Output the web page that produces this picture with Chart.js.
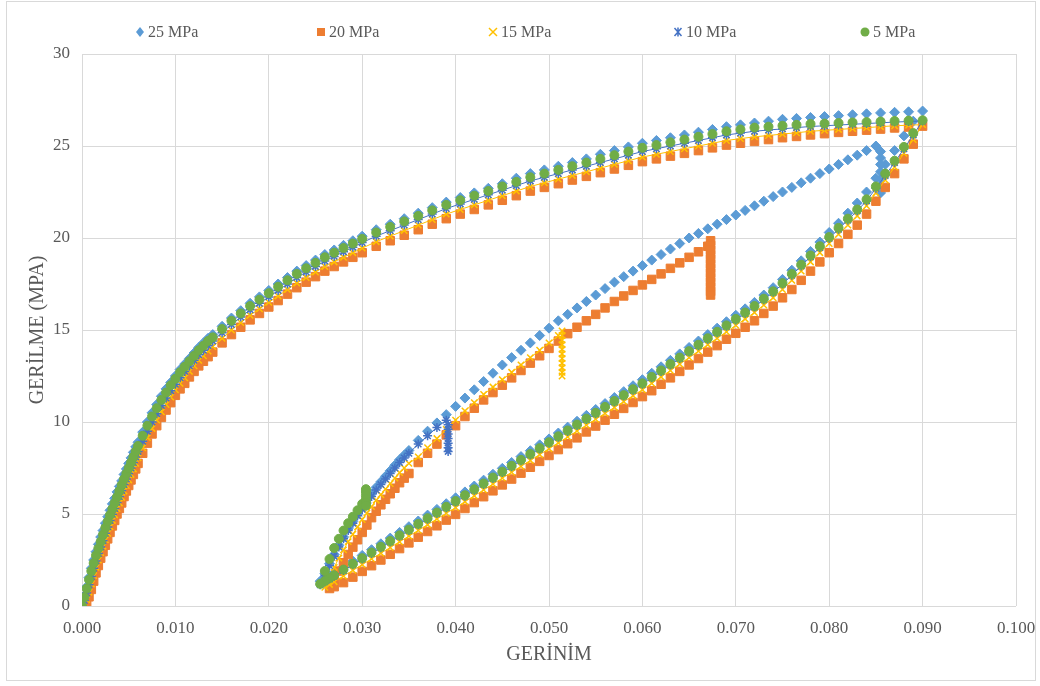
<!DOCTYPE html>
<html lang="tr">
<head>
<meta charset="utf-8">
<title>Gerilme – Gerinim</title>
<script src="https://cdn.jsdelivr.net/npm/chart.js@4.4.1/dist/chart.umd.min.js"></script>
<style>
  html, body { margin: 0; padding: 0; background: #ffffff; }
  #wrap { position: relative; width: 1040px; height: 686px; }
  #frame { position: absolute; left: 6px; top: 1px; width: 1030px; height: 680px;
           box-sizing: border-box; border: 1px solid #D9D9D9; }
  #chart { position: absolute; left: 0; top: 0; }
</style>
</head>
<body>
<div id="wrap">
  <div id="frame"></div>
  <canvas id="chart" width="1040" height="686"></canvas>
</div>
<script>
// ---- Series names ----
const seriesNames = ['25 MPa', '20 MPa', '15 MPa', '10 MPa', '5 MPa'];

// ---- Axis tick labels ----
const xTickLabels = ['0.000', '0.010', '0.020', '0.030', '0.040', '0.050', '0.060', '0.070', '0.080', '0.090', '0.100'];
const yTickLabels = ['0', '5', '10', '15', '20', '25', '30'];

// ---- Loading branch: strain values (shared) and stress (MPa) per series ----
const loadStrain = [
  0, 0.00025, 0.0005, 0.00075, 0.001, 0.00125, 0.0015, 0.00175, 0.002, 0.00225, 0.0025, 0.00275, 0.003,
  0.00325, 0.0035, 0.00375, 0.004, 0.00425, 0.0045, 0.00475, 0.005, 0.00525, 0.0055, 0.00575, 0.006,
  0.0065, 0.007, 0.0075, 0.008, 0.0085, 0.009, 0.0095, 0.010, 0.0105, 0.011, 0.0115, 0.012, 0.0125, 0.013, 0.0135, 0.014,
  0.015, 0.016, 0.017, 0.018, 0.019, 0.020, 0.021, 0.022, 0.023, 0.024, 0.025, 0.026, 0.027, 0.028, 0.029, 0.030,
  0.0315, 0.033, 0.0345, 0.036, 0.0375, 0.039, 0.0405, 0.042, 0.0435, 0.045, 0.0465, 0.048, 0.0495, 0.051,
  0.0525, 0.054, 0.0555, 0.057, 0.0585, 0.060, 0.0615, 0.063, 0.0645, 0.066, 0.0675, 0.069, 0.0705, 0.072,
  0.0735, 0.075, 0.0765, 0.078, 0.0795, 0.081, 0.0825, 0.084, 0.0855, 0.087, 0.0885, 0.090
];
const load25 = [
  0, 0.55, 1.05, 1.55, 2.05, 2.5, 2.95, 3.35, 3.75, 4.1, 4.5, 4.85, 5.2, 5.55, 5.85, 6.2, 6.5, 6.8, 7.15, 7.45, 7.75, 8.05, 8.35, 8.65, 8.9,
  9.45, 10.0, 10.5, 10.95, 11.4, 11.8, 12.15, 12.5, 12.85, 13.15, 13.45, 13.75, 14.05, 14.3, 14.55, 14.75,
  15.2, 15.65, 16.05, 16.45, 16.8, 17.15, 17.5, 17.85, 18.2, 18.5, 18.8, 19.1, 19.35, 19.6, 19.85, 20.1,
  20.45, 20.75, 21.05, 21.35, 21.65, 21.95, 22.2, 22.45, 22.7, 22.95, 23.25, 23.5, 23.7, 23.9, 24.1, 24.3, 24.55, 24.75, 24.95, 25.15,
  25.3, 25.45, 25.6, 25.75, 25.9, 26.05, 26.15, 26.25, 26.35, 26.45, 26.5, 26.55, 26.6, 26.65, 26.7, 26.75, 26.8, 26.83, 26.86, 26.9
];
const load20 = [
  0, 0.05, 0.2, 0.5, 0.9, 1.35, 1.8, 2.2, 2.6, 2.95, 3.3, 3.65, 4.0, 4.35, 4.65, 5.0, 5.3, 5.6, 5.95, 6.25, 6.55, 6.85, 7.15, 7.45, 7.75,
  8.3, 8.85, 9.35, 9.8, 10.25, 10.65, 11.05, 11.45, 11.8, 12.1, 12.45, 12.75, 13.05, 13.3, 13.55, 13.8,
  14.3, 14.75, 15.15, 15.55, 15.9, 16.25, 16.6, 16.95, 17.3, 17.6, 17.9, 18.2, 18.45, 18.7, 18.95, 19.2,
  19.55, 19.85, 20.15, 20.45, 20.75, 21.05, 21.3, 21.55, 21.8, 22.05, 22.3, 22.55, 22.75, 22.95, 23.15, 23.35, 23.55, 23.75, 23.95, 24.15,
  24.3, 24.45, 24.6, 24.75, 24.9, 25.05, 25.15, 25.25, 25.35, 25.45, 25.52, 25.6, 25.67, 25.74, 25.8, 25.86, 25.92, 25.98, 26.03, 26.08
];
const load15 = [
  0, 0.1, 0.35, 0.75, 1.2, 1.65, 2.1, 2.5, 2.9, 3.25, 3.6, 3.95, 4.3, 4.65, 4.95, 5.3, 5.6, 5.9, 6.25, 6.55, 6.85, 7.15, 7.45, 7.75, 8.05,
  8.6, 9.15, 9.65, 10.1, 10.55, 10.95, 11.35, 11.75, 12.1, 12.4, 12.75, 13.05, 13.35, 13.6, 13.85, 14.1,
  14.55, 15.0, 15.4, 15.8, 16.15, 16.5, 16.85, 17.2, 17.55, 17.85, 18.15, 18.45, 18.7, 18.95, 19.2, 19.45,
  19.8, 20.1, 20.4, 20.7, 21.0, 21.3, 21.55, 21.8, 22.05, 22.3, 22.55, 22.8, 23.0, 23.2, 23.4, 23.6, 23.8, 24.0, 24.2, 24.4,
  24.55, 24.7, 24.85, 25.0, 25.15, 25.3, 25.4, 25.5, 25.57, 25.65, 25.72, 25.8, 25.85, 25.9, 25.95, 26.0, 26.05, 26.1, 26.13, 26.16
];
const load10 = [
  0, 0.3, 0.7, 1.15, 1.6, 2.05, 2.45, 2.85, 3.2, 3.55, 3.95, 4.3, 4.65, 4.98, 5.3, 5.63, 5.95, 6.28, 6.6, 6.9, 7.2, 7.5, 7.8, 8.1, 8.4,
  8.95, 9.5, 10.0, 10.45, 10.9, 11.3, 11.7, 12.05, 12.4, 12.75, 13.05, 13.35, 13.65, 13.9, 14.15, 14.4,
  14.85, 15.3, 15.7, 16.1, 16.45, 16.8, 17.15, 17.5, 17.85, 18.15, 18.45, 18.75, 19.0, 19.25, 19.5, 19.75,
  20.1, 20.4, 20.7, 21.0, 21.3, 21.6, 21.85, 22.1, 22.35, 22.6, 22.85, 23.1, 23.3, 23.5, 23.7, 23.9, 24.1, 24.3, 24.5, 24.7,
  24.85, 25.0, 25.15, 25.3, 25.45, 25.6, 25.7, 25.8, 25.87, 25.93, 26.0, 26.06, 26.1, 26.14, 26.18, 26.22, 26.26, 26.3, 26.33, 26.36
];
const load5 = [
  0, 0.48, 0.95, 1.43, 1.9, 2.33, 2.75, 3.13, 3.5, 3.88, 4.25, 4.6, 4.95, 5.28, 5.6, 5.93, 6.25, 6.58, 6.9, 7.2, 7.5, 7.8, 8.1, 8.4, 8.7,
  9.25, 9.8, 10.3, 10.75, 11.2, 11.6, 12.0, 12.35, 12.7, 13.0, 13.3, 13.6, 13.9, 14.15, 14.4, 14.6,
  15.05, 15.5, 15.9, 16.3, 16.65, 17.0, 17.35, 17.7, 18.05, 18.35, 18.65, 18.95, 19.2, 19.45, 19.7, 19.95,
  20.3, 20.6, 20.9, 21.2, 21.5, 21.8, 22.05, 22.3, 22.55, 22.8, 23.05, 23.3, 23.5, 23.7, 23.9, 24.1, 24.3, 24.5, 24.7, 24.9,
  25.05, 25.2, 25.35, 25.5, 25.65, 25.8, 25.9, 26.0, 26.05, 26.1, 26.15, 26.2, 26.22, 26.25, 26.28, 26.3, 26.33, 26.36, 26.38, 26.4
];

// ---- Unloading branch: strain values (shared, decreasing) and stress per series ----
const unloadStrain = [
  0.089, 0.088, 0.087, 0.086, 0.085, 0.084, 0.083, 0.082, 0.081, 0.080,
  0.079, 0.078, 0.077, 0.076, 0.075, 0.074, 0.073, 0.072, 0.071, 0.070,
  0.069, 0.068, 0.067, 0.066, 0.065, 0.064, 0.063, 0.062, 0.061, 0.060,
  0.059, 0.058, 0.057, 0.056, 0.055, 0.054, 0.053, 0.052, 0.051, 0.050,
  0.049, 0.048, 0.047, 0.046, 0.045, 0.044, 0.043, 0.042, 0.041, 0.040,
  0.039, 0.038, 0.037, 0.036, 0.035, 0.034, 0.033, 0.032, 0.031, 0.030,
  0.029, 0.028, 0.027, 0.0265, 0.026, 0.0255
];
const unload25 = [
  26.35, 25.55, 24.75, 24.0, 23.25, 22.5, 21.9, 21.35, 20.8, 20.3,
  19.78, 19.27, 18.76, 18.25, 17.75, 17.3, 16.9, 16.5, 16.15, 15.8,
  15.45, 15.1, 14.75, 14.4, 14.05, 13.7, 13.35, 13.0, 12.65, 12.3,
  11.97, 11.65, 11.33, 11.0, 10.68, 10.36, 10.04, 9.72, 9.4, 9.08,
  8.76, 8.44, 8.12, 7.8, 7.48, 7.16, 6.84, 6.52, 6.2, 5.88,
  5.56, 5.25, 4.94, 4.62, 4.31, 4.0, 3.69, 3.38, 3.06, 2.75,
  2.44, 2.13, 1.82, 1.66, 1.5, 1.35
];
const unload20 = [
  25.1, 24.3, 23.5, 22.75, 22.0, 21.3, 20.7, 20.2, 19.7, 19.2,
  18.7, 18.2, 17.7, 17.2, 16.75, 16.3, 15.9, 15.5, 15.15, 14.82,
  14.5, 14.15, 13.8, 13.45, 13.1, 12.75, 12.4, 12.05, 11.7, 11.38,
  11.06, 10.74, 10.42, 10.1, 9.78, 9.46, 9.14, 8.82, 8.5, 8.18,
  7.86, 7.54, 7.22, 6.9, 6.58, 6.26, 5.94, 5.62, 5.3, 4.98,
  4.67, 4.36, 4.05, 3.74, 3.43, 3.12, 2.81, 2.5, 2.19, 1.88,
  1.57, 1.27, 1.05, 0.95
];
const unload15 = [
  25.35, 24.6, 23.85, 23.15, 22.45, 21.75, 21.2, 20.7, 20.2, 19.7,
  19.2, 18.7, 18.2, 17.7, 17.2, 16.75, 16.35, 15.95, 15.6, 15.25,
  14.9, 14.55, 14.2, 13.85, 13.5, 13.15, 12.8, 12.45, 12.1, 11.75,
  11.43, 11.11, 10.79, 10.47, 10.15, 9.83, 9.51, 9.19, 8.87, 8.55,
  8.23, 7.91, 7.59, 7.27, 6.95, 6.63, 6.31, 5.99, 5.67, 5.35,
  5.04, 4.73, 4.42, 4.11, 3.8, 3.49, 3.18, 2.87, 2.56, 2.25,
  1.94, 1.63, 1.32, 1.17, 1.02
];
const unload10 = [
  25.6, 24.85, 24.1, 23.4, 22.7, 22.02, 21.48, 20.98, 20.48, 19.98,
  19.48, 18.98, 18.48, 17.98, 17.5, 17.05, 16.65, 16.25, 15.9, 15.55,
  15.2, 14.85, 14.5, 14.15, 13.8, 13.45, 13.1, 12.75, 12.4, 12.05,
  11.73, 11.41, 11.09, 10.77, 10.45, 10.13, 9.81, 9.49, 9.17, 8.85,
  8.53, 8.21, 7.89, 7.57, 7.25, 6.93, 6.61, 6.29, 5.97, 5.65,
  5.34, 5.03, 4.72, 4.41, 4.1, 3.79, 3.48, 3.17, 2.86, 2.55,
  2.24, 1.93, 1.62, 1.47, 1.31, 1.15
];
const unload5 = [
  25.7, 24.95, 24.2, 23.5, 22.8, 22.1, 21.55, 21.05, 20.55, 20.05,
  19.55, 19.05, 18.55, 18.05, 17.55, 17.1, 16.7, 16.3, 15.95, 15.6,
  15.25, 14.9, 14.55, 14.2, 13.85, 13.5, 13.15, 12.8, 12.45, 12.1,
  11.78, 11.46, 11.14, 10.82, 10.5, 10.18, 9.86, 9.54, 9.22, 8.9,
  8.58, 8.26, 7.94, 7.62, 7.3, 6.98, 6.66, 6.34, 6.02, 5.7,
  5.39, 5.08, 4.77, 4.46, 4.15, 3.84, 3.53, 3.22, 2.91, 2.6,
  2.29, 1.98, 1.67, 1.52, 1.36, 1.2
];

// ---- Reloading branch: strain values (shared) and stress per series (null = no reading) ----
const reloadStrain = [
  0.0255, 0.026, 0.0265, 0.027, 0.0275, 0.028, 0.0285, 0.029, 0.0295, 0.030,
  0.0305, 0.031, 0.0315, 0.032, 0.0325, 0.033, 0.0335, 0.034, 0.0345, 0.035,
  0.036, 0.037, 0.038, 0.039, 0.040, 0.041, 0.042, 0.043, 0.044, 0.045,
  0.046, 0.047, 0.048, 0.049, 0.050, 0.051, 0.052, 0.053, 0.054, 0.055,
  0.056, 0.057, 0.058, 0.059, 0.060, 0.061, 0.062, 0.063, 0.064, 0.065,
  0.066, 0.067, 0.068, 0.069, 0.070, 0.071, 0.072, 0.073, 0.074, 0.075,
  0.076, 0.077, 0.078, 0.079, 0.080, 0.081, 0.082, 0.083, 0.084, 0.085
];
const reload25 = [
  null, 1.75, 2.3, 2.8, 3.3, 3.75, 4.2, 4.6, 5.0, 5.4,
  5.75, 6.1, 6.45, 6.75, 7.05, 7.35, 7.65, 7.95, 8.2, 8.45,
  9.0, 9.5, 9.95, 10.4, 10.85, 11.3, 11.75, 12.2, 12.65, 13.1,
  13.5, 13.9, 14.3, 14.7, 15.1, 15.5, 15.85, 16.2, 16.55, 16.9,
  17.25, 17.6, 17.9, 18.2, 18.5, 18.8, 19.1, 19.4, 19.7, 20.0,
  20.25, 20.5, 20.75, 21.0, 21.25, 21.5, 21.75, 22.0, 22.25, 22.5,
  22.75, 23.0, 23.25, 23.5, 23.75, 24.0, 24.25, 24.5, 24.75, 25.0
];
const reload20 = [
  null, null, null, 1.45, 1.9, 2.35, 2.8, 3.2, 3.6, 4.0,
  4.4, 4.8, 5.15, 5.5, 5.8, 6.1, 6.4, 6.7, 6.95, 7.2,
  7.8, 8.3, 8.8, 9.3, 9.8, 10.3, 10.75, 11.2, 11.6, 12.0,
  12.4, 12.8, 13.2, 13.6, 14.0, 14.4, 14.8, 15.15, 15.5, 15.85,
  16.2, 16.55, 16.85, 17.15, 17.45, 17.75, 18.05, 18.35, 18.65, 18.95,
  19.25, 19.55
];
const reload15 = [
  null, null, 1.55, 2.1, 2.6, 3.05, 3.5, 3.9, 4.3, 4.7,
  5.05, 5.4, 5.75, 6.05, 6.35, 6.65, 6.95, 7.25, 7.5, 7.75,
  8.1, 8.6, 9.1, 9.6, 10.1, 10.6, 11.05, 11.5, 11.9, 12.3,
  12.7, 13.1, 13.5, 13.9, 14.3, 14.7
];
const reload10 = [
  null, 1.65, 2.2, 2.7, 3.2, 3.65, 4.1, 4.5, 4.9, 5.25,
  5.6, 5.95, 6.3, 6.6, 6.9, 7.2, 7.5, 7.8, 8.05, 8.3,
  8.8, 9.25, 9.7, 10.1
];
const reload5 = [
  null, 1.9, 2.55, 3.15, 3.65, 4.1, 4.5, 4.85, 5.2, 5.55
];

// ---- Hold at constant strain: strain and stress readings per series ----
const holdStrain = [0.0855, 0.0673, 0.0514, 0.0392, 0.0304];
const hold25 = [24.7, 24.35, 24.0, 23.6, 23.2, 22.8, 22.45];
const hold20 = [19.85, 19.6, 19.35, 19.1, 18.85, 18.6, 18.35, 18.1, 17.85, 17.6, 17.35, 17.1, 16.9];
const hold15 = [14.95, 14.7, 14.45, 14.2, 13.95, 13.7, 13.45, 13.2, 12.95, 12.7, 12.5];
const hold10 = [9.85, 9.6, 9.35, 9.1, 8.85, 8.6, 8.4];
const hold5 = [6.35, 6.2, 6.0, 5.8, 5.6, 5.45];

// Join the four test stages of one series into {x, y} points, in test order.
function testPath(loadY, unloadY, reloadY, holdX, holdY) {
  const pts = [];
  loadY.forEach((y, i) => pts.push({ x: loadStrain[i], y }));
  unloadY.forEach((y, i) => pts.push({ x: unloadStrain[i], y }));
  reloadY.forEach((y, i) => { if (y !== null) pts.push({ x: reloadStrain[i], y }); });
  holdY.forEach(y => pts.push({ x: holdX, y }));
  return pts;
}

const TEXT = '#595959';
const GRID = '#D9D9D9';
const FONT = '"Liberation Serif", "Times New Roman", serif';

const styles = [
  { color: '#5B9BD5', pointStyle: 'rectRot',  radius: 5,   line: false, order: 5 },
  { color: '#ED7D31', pointStyle: 'rect',     radius: 6,   line: false, order: 4 },
  { color: '#FFC000', pointStyle: 'crossRot', radius: 4.5, line: true,  order: 3 },
  { color: '#4472C4', pointStyle: 'star',     radius: 4.5, line: true,  order: 2 },
  { color: '#70AD47', pointStyle: 'circle',   radius: 4.5, line: false, order: 1 }
];

const paths = [
  testPath(load25, unload25, reload25, holdStrain[0], hold25),
  testPath(load20, unload20, reload20, holdStrain[1], hold20),
  testPath(load15, unload15, reload15, holdStrain[2], hold15),
  testPath(load10, unload10, reload10, holdStrain[3], hold10),
  testPath(load5,  unload5,  reload5,  holdStrain[4], hold5)
];

const datasets = paths.map((data, i) => {
  const s = styles[i];
  const stroked = s.pointStyle === 'crossRot' || s.pointStyle === 'star';
  return {
    label: seriesNames[i],
    data,
    order: s.order,
    showLine: s.line,
    borderColor: s.color,
    backgroundColor: s.color,
    borderWidth: 1,
    tension: 0,
    pointStyle: s.pointStyle,
    pointRadius: s.radius,
    pointHoverRadius: s.radius,
    pointBackgroundColor: s.color,
    pointBorderColor: s.color,
    pointBorderWidth: stroked ? 1.5 : 1
  };
});

// Legend row across the top, one marker + label per series.
function legendMarker(ctx, ds, cx, cy) {
  ctx.save();
  ctx.fillStyle = ds.pointBackgroundColor;
  ctx.strokeStyle = ds.pointBorderColor;
  ctx.lineWidth = 1.5;
  ctx.beginPath();
  switch (ds.pointStyle) {
    case 'rectRot':
      ctx.moveTo(cx, cy - 5); ctx.lineTo(cx + 4, cy); ctx.lineTo(cx, cy + 5); ctx.lineTo(cx - 4, cy);
      ctx.closePath(); ctx.fill(); break;
    case 'rect':
      ctx.rect(cx - 4, cy - 4, 8, 8); ctx.fill(); break;
    case 'crossRot':
      ctx.moveTo(cx - 4, cy - 4); ctx.lineTo(cx + 4, cy + 4);
      ctx.moveTo(cx + 4, cy - 4); ctx.lineTo(cx - 4, cy + 4); ctx.stroke(); break;
    case 'star':
      ctx.moveTo(cx - 3.5, cy - 4); ctx.lineTo(cx + 3.5, cy + 4);
      ctx.moveTo(cx + 3.5, cy - 4); ctx.lineTo(cx - 3.5, cy + 4);
      ctx.moveTo(cx, cy - 4.5); ctx.lineTo(cx, cy + 4.5); ctx.stroke(); break;
    default:
      ctx.arc(cx, cy, 4.5, 0, Math.PI * 2); ctx.fill();
  }
  ctx.restore();
}

// Horizontal slot (marker centre) of each legend entry.
const legendSlots = [140, 321, 493, 678, 865];

const legendRow = {
  id: 'legendRow',
  afterDraw(chart) {
    const ctx = chart.ctx;
    const sets = chart.data.datasets;
    ctx.save();
    ctx.font = '16px ' + FONT;
    ctx.textBaseline = 'middle';
    ctx.textAlign = 'left';
    const y = 32;
    sets.forEach((ds, i) => {
      const cx = legendSlots[i];
      legendMarker(ctx, ds, cx, y);
      ctx.fillStyle = TEXT;
      ctx.fillText(ds.label, cx + 8, y + 1);
    });
    ctx.restore();
  }
};

new Chart(document.getElementById('chart'), {
  type: 'scatter',
  data: { datasets },
  plugins: [legendRow],
  options: {
    responsive: false,
    devicePixelRatio: 1,
    animation: false,
    events: [],
    layout: { padding: { left: 0, right: 0, top: 54, bottom: 0 } },
    plugins: {
      legend: { display: false },
      tooltip: { enabled: false }
    },
    scales: {
      x: {
        type: 'linear',
        min: 0,
        max: 0.1,
        afterFit(scale) {
          scale.height = 80;
          scale.paddingLeft = 20;
          scale.paddingRight = 24;
        },
        ticks: {
          stepSize: 0.01,
          padding: 12,
          color: TEXT,
          font: { family: FONT, size: 17 },
          maxRotation: 0,
          callback: (value, index) => xTickLabels[index]
        },
        grid: { color: GRID, lineWidth: 1, drawTicks: false },
        border: { display: false },
        title: {
          display: true,
          text: 'GERİNİM',
          color: TEXT,
          font: { family: FONT, size: 20 },
          padding: { top: 0, bottom: 19 }
        }
      },
      y: {
        type: 'linear',
        min: 0,
        max: 30,
        afterFit(scale) { scale.width = 82; },
        ticks: {
          stepSize: 5,
          padding: 12,
          color: TEXT,
          font: { family: FONT, size: 17 },
          callback: (value, index) => yTickLabels[index]
        },
        grid: { color: GRID, lineWidth: 1, drawTicks: false },
        border: { display: false },
        title: {
          display: true,
          text: 'GERİLME (MPA)',
          color: TEXT,
          font: { family: FONT, size: 20 },
          padding: { top: 26, bottom: 0 }
        }
      }
    }
  }
});
</script>
</body>
</html>
